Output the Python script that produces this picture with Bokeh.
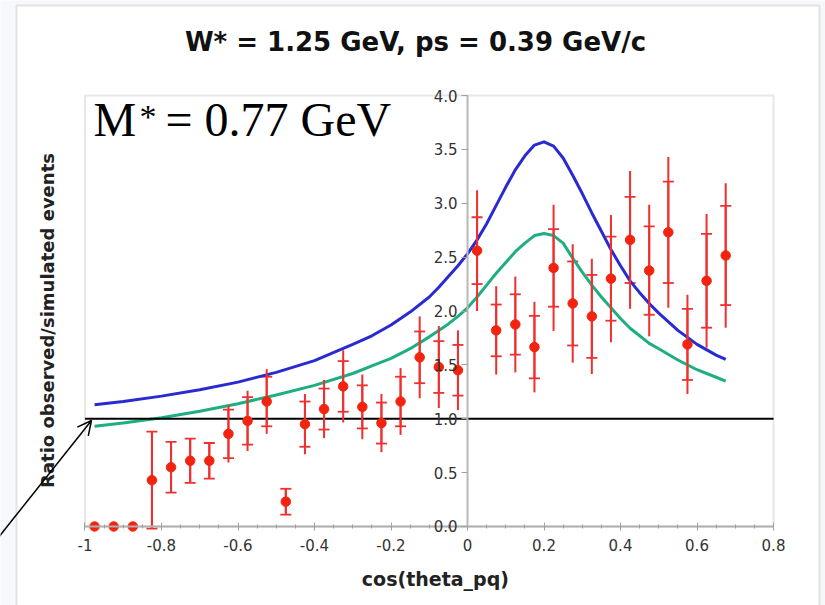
from bokeh.plotting import figure
from bokeh.models import (ColumnDataSource, Whisker, TeeHead, Label, Arrow, OpenHead,
                          BoxAnnotation, SingleIntervalTicker, CustomJSTickFormatter, Range1d)
from bokeh.embed import file_html
from bokeh.resources import INLINE

# ---------------- data ----------------
title_text = "W* = 1.25 GeV, ps = 0.39 GeV/c"
x_label = "cos(theta_pq)"
y_label = "Ratio observed/simulated events"
mass_label_main = "M"
mass_label_sup = "*"
mass_label_rest = "= 0.77 GeV"

x_axis_min, x_axis_max = -1.0, 0.8
y_axis_min, y_axis_max = 0.0, 4.0

cos_theta = [-0.975, -0.925, -0.875, -0.825, -0.775, -0.725, -0.675, -0.625, -0.575, -0.525,
             -0.475, -0.425, -0.375, -0.325, -0.275, -0.225, -0.175, -0.125, -0.075, -0.025,
             0.025, 0.075, 0.125, 0.175, 0.225, 0.275, 0.325, 0.375, 0.425, 0.475,
             0.525, 0.575, 0.625, 0.675]
ratio = [0.0, 0.0, 0.0, 0.43, 0.55, 0.61, 0.61, 0.86, 0.98, 1.16,
         0.23, 0.95, 1.09, 1.30, 1.11, 0.96, 1.16, 1.57, 1.48, 1.45,
         2.56, 1.82, 1.875, 1.665, 2.40, 2.07, 1.95, 2.30, 2.66, 2.375,
         2.73, 1.69, 2.28, 2.515]
stat_err = [0.0, 0.0, 0.0, 0.45, 0.235, 0.205, 0.165, 0.225, 0.22, 0.23,
            0.12, 0.21, 0.19, 0.235, 0.20, 0.19, 0.23, 0.24, 0.24, 0.235,
            0.31, 0.24, 0.28, 0.29, 0.36, 0.39, 0.385, 0.39, 0.40, 0.41,
            0.47, 0.33, 0.435, 0.46]
total_err = [0.0, 0.0, 0.0, 0.45, 0.235, 0.205, 0.165, 0.265, 0.28, 0.30,
             0.12, 0.28, 0.27, 0.335, 0.30, 0.27, 0.31, 0.38, 0.38, 0.37,
             0.56, 0.41, 0.445, 0.42, 0.585, 0.55, 0.535, 0.59, 0.64, 0.61,
             0.70, 0.46, 0.62, 0.67]

blue_x = [-0.975, -0.9, -0.8, -0.7, -0.6, -0.5, -0.4, -0.3, -0.25, -0.2, -0.15, -0.1, -0.075,
          -0.05, -0.025, 0.0, 0.025, 0.05, 0.075, 0.1, 0.125, 0.15, 0.175, 0.2, 0.225, 0.25,
          0.275, 0.3, 0.325, 0.35, 0.375, 0.4, 0.425, 0.45, 0.475, 0.5, 0.55, 0.6, 0.65, 0.675]
blue_y = [1.13, 1.16, 1.21, 1.27, 1.34, 1.43, 1.54, 1.69, 1.77, 1.87, 1.99, 2.13, 2.22,
          2.32, 2.42, 2.53, 2.66, 2.81, 2.98, 3.15, 3.31, 3.44, 3.54, 3.57, 3.53, 3.42,
          3.26, 3.09, 2.91, 2.74, 2.57, 2.42, 2.28, 2.17, 2.07, 1.98, 1.82, 1.69, 1.59, 1.55]
green_x = blue_x
green_y = [0.93, 0.96, 1.01, 1.07, 1.14, 1.22, 1.31, 1.42, 1.49, 1.56, 1.65, 1.76, 1.82,
           1.88, 1.95, 2.03, 2.13, 2.24, 2.35, 2.45, 2.55, 2.63, 2.70, 2.72, 2.70, 2.63,
           2.49, 2.36, 2.24, 2.13, 2.03, 1.93, 1.84, 1.77, 1.70, 1.65, 1.545, 1.455, 1.385, 1.35]

reference_level = 1.0

# ---------------- figure (frame covers the whole canvas) ----------------
p = figure(width=825, height=605, output_backend="svg", toolbar_location=None,
           x_range=Range1d(-1.2209, 0.9359), y_range=Range1d(-0.7332, 4.8817),
           min_border=0, min_border_left=0, min_border_right=0,
           min_border_top=0, min_border_bottom=0, title=None)
p.border_fill_color = "#f6f8fb"
p.background_fill_color = "#f6f8fb"
p.outline_line_color = None
p.xgrid.visible = False
p.ygrid.visible = False

# outer white panel
p.add_layout(BoxAnnotation(left=-1.179, right=0.92, top=4.835, bottom=-1.0,
                           fill_color="white", fill_alpha=1.0,
                           line_color="#a8a8a8", line_width=2, level="underlay"))
# plot frame
p.add_layout(BoxAnnotation(left=x_axis_min, right=x_axis_max, top=y_axis_max, bottom=y_axis_min,
                           fill_alpha=0.0, line_color="#b0b0b0", line_width=2, level="underlay"))

# axes
xa = p.xaxis[0]
xa.fixed_location = 0
xa.bounds = (x_axis_min, x_axis_max)
xa.ticker = SingleIntervalTicker(interval=0.2, num_minor_ticks=4)
xa.formatter = CustomJSTickFormatter(code="return String(Math.round(tick*10)/10);")
xa.axis_line_color = "#b0b0b0"
xa.axis_line_width = 2
xa.major_tick_line_color = "#a0a0a0"
xa.minor_tick_line_color = "#a0a0a0"
xa.major_tick_in = 4
xa.major_tick_out = 4
xa.minor_tick_in = 2
xa.minor_tick_out = 2
xa.major_label_standoff = 9
xa.major_label_text_font = "DejaVu Sans"
xa.major_label_text_font_size = "15px"
xa.major_label_text_color = "#333333"

ya = p.yaxis[0]
ya.fixed_location = 0
ya.bounds = (y_axis_min, y_axis_max)
ya.ticker = SingleIntervalTicker(interval=0.5, num_minor_ticks=0)
ya.formatter = CustomJSTickFormatter(code="return tick.toFixed(1);")
ya.axis_line_color = "#b8b8b8"
ya.axis_line_width = 2
ya.major_tick_line_color = "#a0a0a0"
ya.major_tick_in = 0
ya.major_tick_out = 6
ya.minor_tick_line_color = None
ya.major_label_standoff = 4
ya.major_label_text_font = "DejaVu Sans"
ya.major_label_text_font_size = "15px"
ya.major_label_text_color = "#333333"

# curves
p.line(blue_x, blue_y, line_color="#2a2ad2", line_width=3, line_join="round")
p.line(green_x, green_y, line_color="#1fae82", line_width=3, line_join="round")

# reference line
p.segment(x0=[x_axis_min], y0=[reference_level], x1=[x_axis_max], y1=[reference_level],
          line_color="black", line_width=2)

# error bars
ex, ey, lo1, hi1, lo2, hi2 = [], [], [], [], [], []
for xv, yv, s, t in zip(cos_theta, ratio, stat_err, total_err):
    if s > 0:
        ex.append(xv); ey.append(yv)
        lo1.append(yv - s); hi1.append(yv + s)
        lo2.append(yv - t); hi2.append(yv + t)
err_src = ColumnDataSource(dict(x=ex, y=ey, lo1=lo1, hi1=hi1, lo2=lo2, hi2=hi2))
p.segment(x0="x", y0="lo2", x1="x", y1="hi2", source=err_src, line_color="#ee3030", line_width=2)
p.add_layout(Whisker(source=err_src, base="x", lower="lo1", upper="hi1",
                     line_color="#ee3030", line_width=2,
                     upper_head=TeeHead(size=11, line_color="#ee3030", line_width=1.8),
                     lower_head=TeeHead(size=11, line_color="#ee3030", line_width=1.8)))

p.scatter(cos_theta, ratio, size=9.5, fill_color="#f22410", line_color="#f22410")

# texts
p.add_layout(Label(x=-0.136, y=4.501, text=title_text, text_align="center",
                   text_baseline="alphabetic", text_font="DejaVu Sans", text_font_style="bold",
                   text_font_size="26px", text_color="#111111"))
p.add_layout(Label(x=-1.098, y=1.912, text=y_label, angle=1.5708, text_align="center",
                   text_baseline="middle", text_font="DejaVu Sans", text_font_style="bold",
                   text_font_size="18px", text_color="#222222"))
p.add_layout(Label(x=-0.084, y=-0.483, text=x_label, text_align="center",
                   text_baseline="middle", text_font="DejaVu Sans", text_font_style="bold",
                   text_font_size="19px", text_color="#222222"))
p.add_layout(Label(x=-0.978, y=3.777, text=mass_label_main, text_align="left",
                   text_baseline="alphabetic", text_font="Liberation Serif",
                   text_font_size="48px", text_color="black"))
p.add_layout(Label(x=-0.8575, y=3.981, text=mass_label_sup, text_align="left",
                   text_baseline="top", text_font="Liberation Serif",
                   text_font_size="34px", text_color="black"))
p.add_layout(Label(x=-0.7895, y=3.777, text=mass_label_rest, text_align="left",
                   text_baseline="alphabetic", text_font="Liberation Serif",
                   text_font_size="48px", text_color="black"))

# arrow
p.add_layout(Arrow(x_start=-1.235, y_start=-0.14, x_end=-0.983, y_end=0.984,
                   line_color="black", line_width=1.5,
                   end=OpenHead(size=14, line_color="black", line_width=1.5)))

open("out.html", "w").write(file_html(p, INLINE))
